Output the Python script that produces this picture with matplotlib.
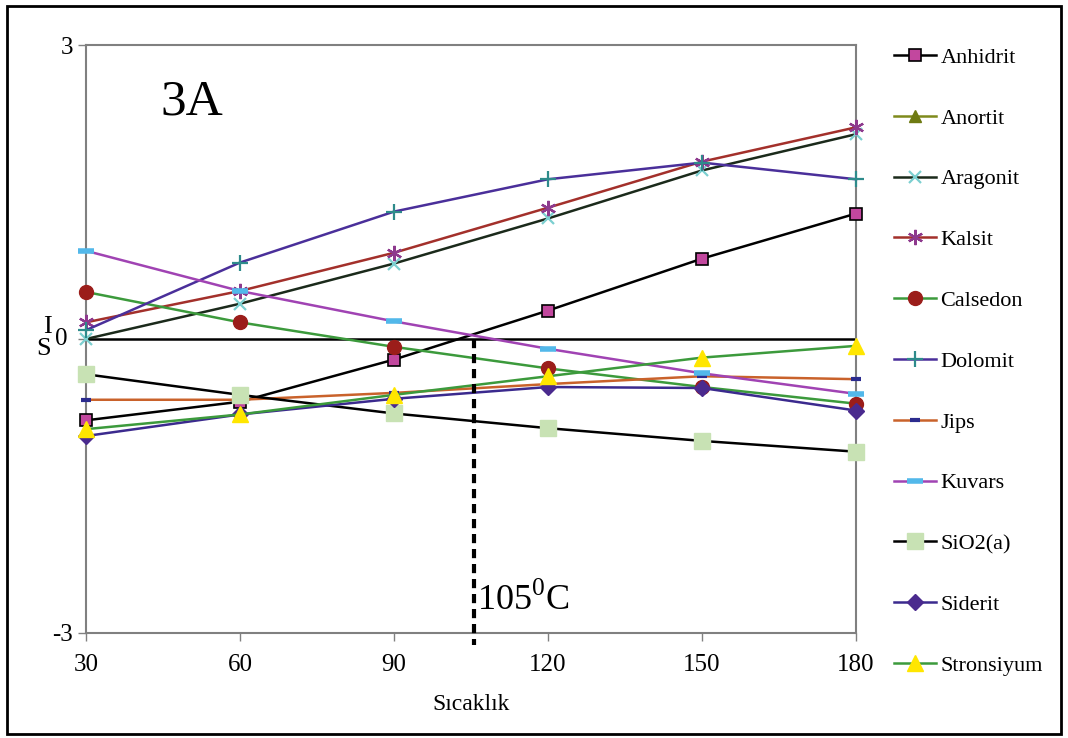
import numpy as np
import matplotlib.pyplot as plt
from matplotlib.patches import Rectangle

plt.rcParams['font.family'] = ['Liberation Serif', 'DejaVu Serif']

# Temperatures (x) and saturation index values per mineral
temps = [30, 60, 90, 120, 150, 180]
anhidrit = [-0.83, -0.64, -0.21, 0.29, 0.82, 1.28]
anortit = [np.nan] * 6
aragonit = [0.00, 0.36, 0.77, 1.23, 1.72, 2.09]
kalsit = [0.17, 0.49, 0.88, 1.34, 1.81, 2.16]
calsedon = [0.48, 0.17, -0.08, -0.30, -0.49, -0.66]
dolomit = [0.09, 0.78, 1.30, 1.63, 1.80, 1.63]
jips = [-0.62, -0.62, -0.55, -0.46, -0.38, -0.41]
kuvars = [0.90, 0.49, 0.18, -0.10, -0.35, -0.56]
sio2a = [-0.36, -0.57, -0.76, -0.91, -1.04, -1.15]
siderit = [-0.99, -0.77, -0.61, -0.49, -0.50, -0.73]
stronsiyum = [-0.92, -0.77, -0.57, -0.38, -0.19, -0.07]

xticks = [30, 60, 90, 120, 150, 180]
yticks = [-3, 0, 3]
marker_temp = 105.5

fig = plt.figure(figsize=(10.68, 7.38), dpi=100)
ax = fig.add_axes([0.0805, 0.1423, 0.721, 0.7967])

series = [
    ('Anhidrit', anhidrit, dict(color='black', marker='s', mfc='#C2479E', mec='black', ms=8, mew=1.2)),
    ('Anortit', anortit, dict(color='#7F8A1C', marker='^', mfc='#6E7A12', mec='#6E7A12', ms=8)),
    ('Aragonit', aragonit, dict(color='#1B2A1B', marker='x', mfc='#7CCFD0', mec='#7CCFD0', ms=8, mew=1.6)),
    ('Kalsit', kalsit, dict(color='#A3302B', marker=(6, 2, 0), mfc='#8E3A8E', mec='#8E3A8E', ms=11, mew=1.6)),
    ('Calsedon', calsedon, dict(color='#3C9A3C', marker='o', mfc='#9B1D1A', mec='#9B1D1A', ms=10)),
    ('Dolomit', dolomit, dict(color='#4A2F9A', marker='+', mfc='#2E8B8B', mec='#2E8B8B', ms=11, mew=1.6)),
    ('Jips', jips, dict(color='#C9622B', marker='_', mfc='#2B2B8E', mec='#2B2B8E', ms=7, mew=3)),
    ('Kuvars', kuvars, dict(color='#A043B3', marker='_', mfc='#52B8EA', mec='#52B8EA', ms=11, mew=4)),
    ('SiO2(a)', sio2a, dict(color='black', marker='s', mfc='#C8E2B4', mec='#C8E2B4', ms=11)),
    ('Siderit', siderit, dict(color='#3B2A8E', marker='D', mfc='#4A2A8E', mec='#4A2A8E', ms=8)),
    ('Stronsiyum', stronsiyum, dict(color='#3C9A3C', marker='^', mfc='#FFE600', mec='#FFE600', ms=11)),
]

for name, vals, style in series:
    ax.plot(temps, vals, lw=1.8, label=name, clip_on=False, zorder=3, **style)

# zero line and the 105 C marker
ax.axhline(0, color='black', lw=1.8, zorder=2)
ax.plot([marker_temp, marker_temp], [0, -3.12], color='black', lw=3,
        ls=(0, (2.2, 1.4)), clip_on=False, zorder=4)
ax.text(marker_temp + 0.6, -2.67, '105$^{\\mathregular{0}}$C', fontsize=26, va='center', ha='left')
ax.text(44.5, 2.42, '3A', fontsize=37, va='center', ha='left')

ax.set_xlim(30, 180)
ax.set_ylim(-3, 3)
ax.set_xticks(xticks)
ax.set_yticks(yticks)
ax.set_yticklabels(['-3', '', '3'])
ax.tick_params(axis='both', direction='out', length=6, color='#808080', labelsize=18, width=1)
ax.tick_params(axis='x', pad=9)
for sp in ax.spines.values():
    sp.set_color('#808080')
    sp.set_linewidth(1.5)
ax.set_xlabel('Sıcaklık', fontsize=17, labelpad=13)

# y-axis label drawn as stacked letters next to zero
fig.text(0.044, 0.557, 'I', fontsize=19, ha='center', va='center')
fig.text(0.041, 0.527, 'S', fontsize=19, ha='center', va='center')
fig.text(0.057, 0.541, '0', fontsize=18, ha='center', va='center')

fig.legend(loc='upper left', bbox_to_anchor=(0.818, 0.963), frameon=False,
           fontsize=16, labelspacing=1.81, handlelength=1.9, handletextpad=0.2)

fig.add_artist(Rectangle((0.007, 0.006), 0.986, 0.986, transform=fig.transFigure,
                         fill=False, ec='black', lw=2))

plt.savefig('out.png', dpi=100)
